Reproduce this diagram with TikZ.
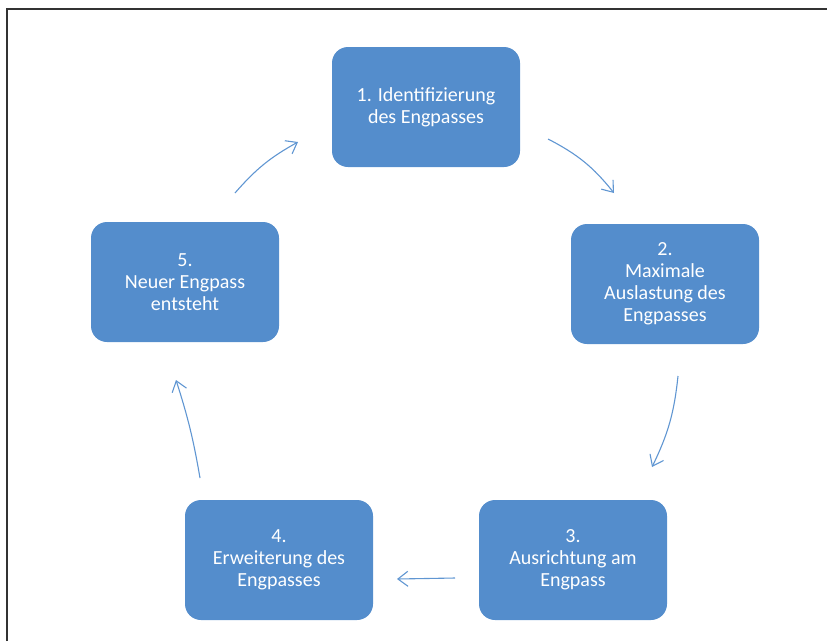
\documentclass[tikz,border=0pt]{standalone}
\usepackage{fontspec}
\setmainfont{Carlito}
\usetikzlibrary{arrows.meta}
\definecolor{stagefill}{RGB}{84, 141, 204}
\definecolor{flowline}{RGB}{96, 150, 210}
\tikzset{
  stage/.style={draw=none, fill=stagefill, rounded corners=16pt, minimum width=188pt,
    minimum height=120pt, align=center, text=white, font=\fontsize{20}{22}\selectfont},
  flow/.style={flowline, line width=1.1pt, -{Straight Barb[length=10pt,width=15pt]}}
}
\begin{document}
\begin{tikzpicture}[x=1pt, y=-1pt]
  \useasboundingbox (0,0) rectangle (827,641);
  % frame
  \draw[line width=1.3pt, black!80] (7,641) -- (7,9) -- (827,9);
  % stages
  \node[stage] (ident) at (426,107) {1. Identifizierung\\des Engpasses};
  \node[stage] (maxaus) at (665,284) {2.\\Maximale\\Auslastung des\\Engpasses};
  \node[stage] (ausricht) at (573,560) {3.\\Ausrichtung am\\Engpass};
  \node[stage] (erweit) at (279,560) {4.\\Erweiterung des\\Engpasses};
  \node[stage] (neuer) at (185,282) {5.\\Neuer Engpass\\entsteht};
  % arrow ends
  \coordinate (a1) at (548,139); \coordinate (b1) at (614,193);
  \coordinate (a2) at (678,376); \coordinate (b2) at (652,467);
  \coordinate (a3) at (455,578); \coordinate (b3) at (397,579);
  \coordinate (a4) at (200,478); \coordinate (b4) at (176,380);
  \coordinate (a5) at (235,193); \coordinate (b5) at (298,142);
  \draw[flow] (a1) to[bend left=12] (b1);
  \draw[flow] (a2) to[bend left=10] (b2);
  \draw[flow] (a3) to (b3);
  \draw[flow] (a4) to[bend right=4] (b4);
  \draw[flow] (a5) to[bend left=10] (b5);
\end{tikzpicture}
\end{document}
